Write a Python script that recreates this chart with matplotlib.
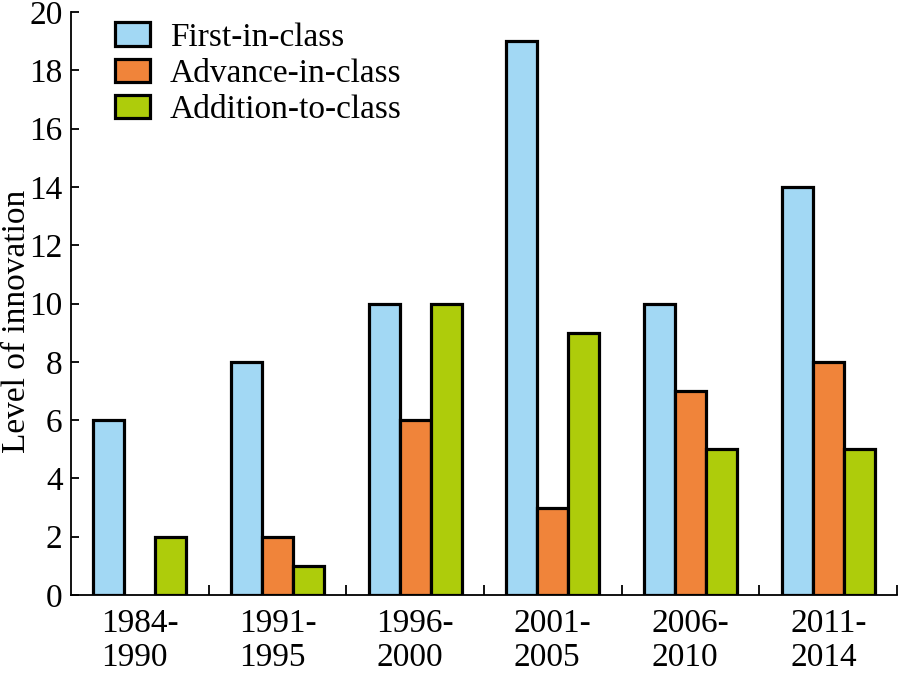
import numpy as np
import matplotlib.pyplot as plt
from matplotlib.patches import Patch

plt.rcParams['font.family'] = ['Liberation Serif', 'DejaVu Serif']

periods = ['1984-\n1990', '1991-\n1995', '1996-\n2000', '2001-\n2005', '2006-\n2010', '2011-\n2014']
first_in_class = [6, 8, 10, 19, 10, 14]
advance_in_class = [0, 2, 6, 3, 7, 8]
addition_to_class = [2, 1, 10, 9, 5, 5]

series = [
    ('First-in-class', first_in_class, '#A2D8F4'),
    ('Advance-in-class', advance_in_class, '#F0843A'),
    ('Addition-to-class', addition_to_class, '#AECC0B'),
]

fig = plt.figure(figsize=(8.98, 6.75), dpi=100)
ax = fig.add_axes([0.079, 0.1185, 0.92, 0.8635])

x = np.arange(len(periods))
width = 0.225
for i, (name, vals, color) in enumerate(series):
    vals = np.array(vals, dtype=float)
    pos = x + (i - 1) * width
    # skip zero-height bars so no flat outline is drawn
    mask = vals > 0
    ax.bar(pos[mask], vals[mask], width, color=color, edgecolor='black', linewidth=2.3)

ax.set_xlim(-0.5, len(periods) - 0.5)
ax.set_ylim(0, 20)
ax.set_yticks(range(0, 21, 2))
ax.set_xticks(x)
ax.set_xticklabels(periods, multialignment='left', linespacing=1.15)
ax.set_xticks(np.arange(0.5, len(periods), 1.0), minor=True)

ax.tick_params(axis='x', which='major', length=0, pad=10, labelsize=24)
ax.tick_params(axis='x', which='minor', direction='in', length=7, width=1.3)
ax.tick_params(axis='y', direction='in', length=6, width=1.3, pad=6, labelsize=24)

for side in ['top', 'right']:
    ax.spines[side].set_visible(False)
for side in ['left', 'bottom']:
    ax.spines[side].set_linewidth(1.3)

ax.set_ylabel('Level of innovation', fontsize=24)
ax.yaxis.set_label_coords(-0.047, 0.47)

handles = [Patch(facecolor=c, edgecolor='black', linewidth=2.3, label=n) for n, _, c in series]
ax.legend(handles=handles, loc='upper left', bbox_to_anchor=(0.017, 1.034), frameon=False,
          fontsize=24, handlelength=1.05, handleheight=0.72, handletextpad=0.6, labelspacing=0.17)

fig.savefig('out.png', dpi=100)
